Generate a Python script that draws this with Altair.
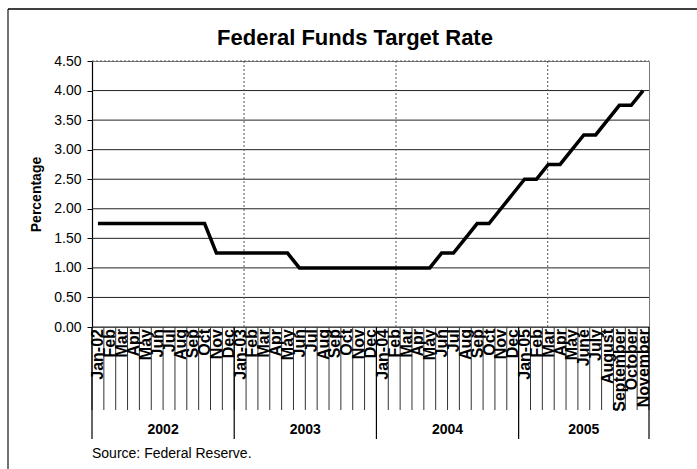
import altair as alt
import pandas as pd

# ---- data ----
month_labels = [
    "Jan-02", "Feb", "Mar", "Apr", "May", "Jun", "Jul", "Aug", "Sep", "Oct", "Nov", "Dec",
    "Jan-03", "Feb", "Mar", "Apr", "May", "Jun", "Jul", "Aug", "Sep", "Oct", "Nov", "Dec",
    "Jan-04", "Feb", "Mar", "Apr", "May", "Jun", "Jul", "Aug", "Sep", "Oct", "Nov", "Dec",
    "Jan-05", "Feb", "Mar", "Apr", "May", "June", "July", "August", "September", "October", "November",
]
rates = [
    1.75, 1.75, 1.75, 1.75, 1.75, 1.75, 1.75, 1.75, 1.75, 1.75, 1.25, 1.25,
    1.25, 1.25, 1.25, 1.25, 1.25, 1.00, 1.00, 1.00, 1.00, 1.00, 1.00, 1.00,
    1.00, 1.00, 1.00, 1.00, 1.00, 1.25, 1.25, 1.50, 1.75, 1.75, 2.00, 2.25,
    2.50, 2.50, 2.75, 2.75, 3.00, 3.25, 3.25, 3.50, 3.75, 3.75, 4.00,
]
years = ["2002", "2003", "2004", "2005"]
months_per_year = [12, 12, 12, 11]
y_ticks = [0.0, 0.5, 1.0, 1.5, 2.0, 2.5, 3.0, 3.5, 4.0, 4.5]
# category-axis gridlines as drawn by the original (in category units)
v_grid = [12.83, 25.65, 38.45]

n = len(month_labels)
df = pd.DataFrame({
    "pos": [i + 0.5 for i in range(n)],
    "label": month_labels,
    "rate": rates,
})
bounds_df = pd.DataFrame({"b": list(range(n + 1))})
starts = [sum(months_per_year[:k]) for k in range(len(years))]
year_df = pd.DataFrame({
    "year": years,
    "center": [s + m / 2 for s, m in zip(starts, months_per_year)],
})
year_bounds_df = pd.DataFrame({"b": starts + [n]})
vgrid_df = pd.DataFrame({"g": v_grid})
hgrid_df = pd.DataFrame({"rate": y_ticks[:-1]})
htop_df = pd.DataFrame({"rate": y_ticks[-1:]})

W, H = 557, 266
FONT = "Liberation Sans"

xscale = alt.Scale(domain=[0, n], nice=False, zero=False)
yscale = alt.Scale(domain=[0, 4.5], nice=False)
y_axis = alt.Axis(
    values=y_ticks, format=".2f", title="Percentage",
    titleFont=FONT, titleFontSize=14, titleFontWeight="bold", titleColor="black",
    titlePadding=10,
    labelFont=FONT, labelFontSize=14, labelColor="black", labelPadding=6,
    tickSize=5, tickColor="black", domainColor="black", domainWidth=1.2,
    grid=False,
)

def yenc():
    return alt.Y("rate:Q", scale=yscale, axis=y_axis, title="Percentage")

hgrid = alt.Chart(hgrid_df).mark_rule(color="#222", strokeWidth=1).encode(
    y=yenc(), x=alt.value(0), x2=alt.value(W)
)
htop = alt.Chart(htop_df).mark_rule(color="#555", strokeWidth=1, strokeDash=[2, 2]).encode(
    y=yenc(), x=alt.value(0), x2=alt.value(W)
)

line = alt.Chart(df).mark_line(color="black", strokeWidth=3.5, strokeJoin="miter").encode(
    x=alt.X("pos:Q", scale=xscale, axis=None),
    y=yenc(),
)

vgrid = alt.Chart(vgrid_df).mark_rule(color="#555", strokeWidth=1, strokeDash=[2, 2]).encode(
    x=alt.X("g:Q", scale=xscale, axis=None), y=alt.value(0), y2=alt.value(H)
)

cat_sep = alt.Chart(bounds_df).mark_rule(color="#333", strokeWidth=1).encode(
    x=alt.X("b:Q", scale=xscale, axis=None), y=alt.value(H), y2=alt.value(H + 83)
)

year_sep = alt.Chart(year_bounds_df).mark_rule(color="black", strokeWidth=1.2).encode(
    x=alt.X("b:Q", scale=xscale, axis=None), y=alt.value(H), y2=alt.value(H + 112)
)

cat_labels = alt.Chart(df).mark_text(
    angle=270, align="right", baseline="middle", font=FONT, fontSize=16,
    fontWeight="bold", color="black", dx=-2, dy=0.5,
).encode(x=alt.X("pos:Q", scale=xscale, axis=None), y=alt.value(H), text="label:N")

year_labels = alt.Chart(year_df).mark_text(
    align="center", baseline="middle", font=FONT, fontSize=14, fontWeight="bold", color="black"
).encode(x=alt.X("center:Q", scale=xscale, axis=None), y=alt.value(H + 103), text="year:N")

source = alt.Chart(pd.DataFrame({"t": ["Source: Federal Reserve."]})).mark_text(
    align="left", baseline="middle", font=FONT, fontSize=14, color="black"
).encode(x=alt.value(0), y=alt.value(H + 127), text="t:N")

title = alt.Chart(pd.DataFrame({"t": ["Federal Funds Target Rate"]})).mark_text(
    align="center", baseline="alphabetic", font=FONT, fontSize=22, fontWeight="bold", color="black"
).encode(x=alt.value(263), y=alt.value(-16), text="t:N")

border_left = alt.Chart(pd.DataFrame({"k": [0]})).mark_rule(color="#444", strokeWidth=1.5).encode(
    x=alt.value(-84), y=alt.value(-52), y2=alt.value(H + 142)
)
border_top = alt.Chart(pd.DataFrame({"k": [0]})).mark_rule(color="black", strokeWidth=1.5).encode(
    x=alt.value(-84), x2=alt.value(W + 48), y=alt.value(-52)
)

chart = alt.layer(
    hgrid, htop, vgrid, line, cat_sep, year_sep, cat_labels, year_labels, source, title,
    border_left, border_top
).properties(
    width=W, height=H,
    autosize=alt.AutoSizeParams(type="none"),
    padding={"left": 92, "top": 61, "right": 48, "bottom": 142},
    background="white",
).configure_view(stroke="#777", strokeWidth=1)

chart.save("out.html", embed_options={"renderer": "svg", "actions": False})
